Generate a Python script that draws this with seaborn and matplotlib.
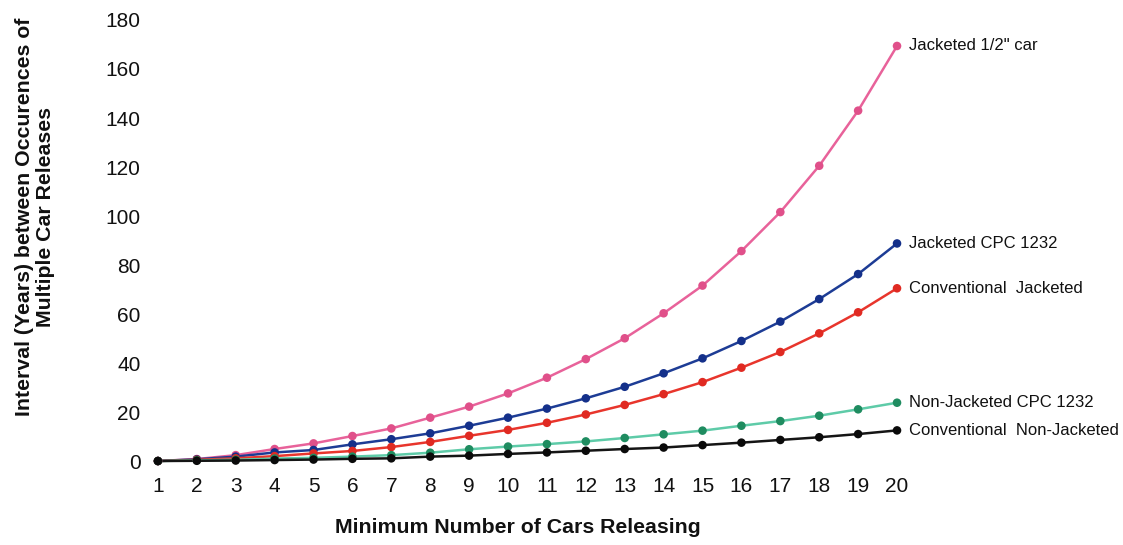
import numpy as np
import matplotlib
matplotlib.use('Agg')
import matplotlib.pyplot as plt
import pandas as pd
import seaborn as sns

# data
cars = list(range(1, 21))
jacketed_half = [0, 0.8, 2.4, 4.9, 7.2, 10.2, 13.3, 17.7, 22.2, 27.6,
                 34.0, 41.6, 50.1, 60.3, 71.6, 85.7, 101.6, 120.5, 143.0, 169.4]
jacketed_cpc = [0, 0.7, 1.8, 3.5, 4.5, 6.8, 8.9, 11.3, 14.4, 17.7,
                21.4, 25.6, 30.3, 35.8, 41.9, 49.0, 56.9, 66.1, 76.3, 88.8]
conv_jacketed = [0, 0.5, 1.1, 2.0, 3.1, 4.1, 5.7, 7.8, 10.3, 12.7,
                 15.6, 19.0, 22.9, 27.3, 32.2, 38.1, 44.5, 52.1, 60.7, 70.5]
nonjack_cpc = [0, 0.3, 0.5, 1.0, 1.3, 1.8, 2.4, 3.4, 4.8, 5.9,
               6.9, 8.0, 9.4, 10.9, 12.4, 14.4, 16.3, 18.5, 21.1, 23.8]
conv_nonjack = [0, 0.1, 0.2, 0.4, 0.6, 0.9, 1.1, 1.8, 2.2, 2.9,
                3.5, 4.2, 4.9, 5.5, 6.5, 7.5, 8.6, 9.7, 11.0, 12.5]

series_names = ['Jacketed 1/2" car', 'Jacketed CPC 1232', 'Conventional  Jacketed',
                'Non-Jacketed CPC 1232', 'Conventional  Non-Jacketed']
series_vals = [jacketed_half, jacketed_cpc, conv_jacketed, nonjack_cpc, conv_nonjack]
line_colors = ['#E8629A', '#1D3C95', '#E8352C', '#5ECBA8', '#151515']
dot_colors = ['#E0508A', '#14308A', '#E02A22', '#1F8C60', '#0A0A0A']

sns.set_style('white')
plt.rcParams['font.family'] = ['Liberation Sans', 'DejaVu Sans']

fig = plt.figure(figsize=(11.23, 5.45), dpi=100)
ax = fig.add_axes([0.1337, 0.1406, 0.672, 0.8317])

for name, vals, lc, dc in zip(series_names, series_vals, line_colors, dot_colors):
    df = pd.DataFrame({'cars': cars, 'years': vals})
    sns.lineplot(data=df, x='cars', y='years', ax=ax, color=lc, linewidth=1.8)
    sns.scatterplot(data=df, x='cars', y='years', ax=ax, color=dc, s=38,
                    edgecolor='none', zorder=3)
    ax.text(20.3, vals[-1], name, fontsize=12, va='center', ha='left',
            color='#111111')

ax.set_xlim(0.8, 20.2)
ax.set_ylim(-3, 182)
ax.set_xticks(cars)
ax.set_yticks(range(0, 181, 20))
ax.tick_params(axis='both', length=0, labelsize=15, colors='#111111')
ax.tick_params(axis='y', pad=7)
ax.tick_params(axis='x', pad=6)
sns.despine(ax=ax, left=True, bottom=True)

ax.set_xlabel('')
ax.set_ylabel('')
fig.text(0.461, 0.033, 'Minimum Number of Cars Releasing', fontsize=15.3,
         fontweight='bold', ha='center', va='center', color='#111111')
fig.text(0.031, 0.602, 'Interval (Years) between Occurences of\nMultiple Car Releases',
         fontsize=15.3, fontweight='bold', ha='center', va='center',
         rotation=90, color='#111111', linespacing=1.15)

fig.savefig('out.png', dpi=100)
